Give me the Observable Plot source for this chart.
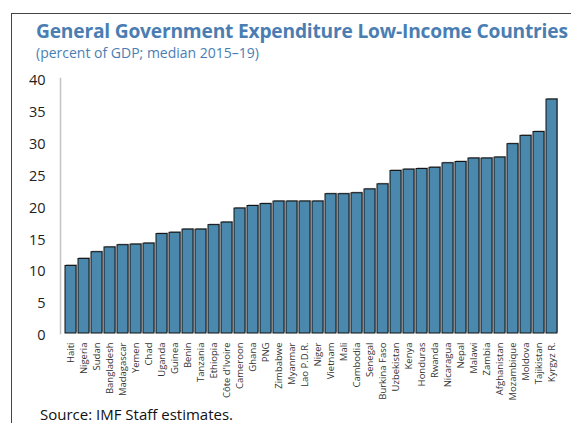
<!DOCTYPE html>
<html>
<head>
<meta charset="utf-8">
<script src="https://cdn.jsdelivr.net/npm/d3@7"></script>
<script src="https://cdn.jsdelivr.net/npm/@observablehq/plot@0.6"></script>
<style>
  html, body { margin: 0; padding: 0; background: #fff; width: 571px; height: 423px; overflow: hidden; }
  body { position: relative; font-family: "Open Sans", "Noto Sans", sans-serif; }
  #box { position: absolute; left: 11px; top: 13px; width: 700px; height: 600px; border-left: 1px solid #444; border-top: 1px solid #444; }
  #title { position: absolute; left: 36px; top: 19px; font-size: 19.2px; line-height: 23px; font-weight: 700; color: #4a7eb3; white-space: nowrap; letter-spacing: -0.2px; }
  #subtitle { position: absolute; left: 36px; top: 45px; font-size: 14px; line-height: 16px; color: #4a7eb3; white-space: nowrap; }
  #chart { position: absolute; left: 0; top: 62px; }
  #source { position: absolute; left: 40px; top: 405px; font-size: 15px; line-height: 18px; color: #111; white-space: nowrap; }
</style>
</head>
<body>
<div id="box"></div>
<div id="title">General Government Expenditure Low-Income Countries</div>
<div id="subtitle">(percent of GDP; median 2015–19)</div>
<div id="chart"></div>
<div id="source">Source: IMF Staff estimates.</div>
<script>
const countries = ["Haiti","Nigeria","Sudan","Bangladesh","Madagascar","Yemen","Chad","Uganda","Guinea","Benin","Tanzania","Ethiopia","Côte d'Ivoire","Cameroon","Ghana","PNG","Zimbabwe","Myanmar","Lao P.D.R.","Niger","Vietnam","Mali","Cambodia","Senegal","Burkina Faso","Uzbekistan","Kenya","Honduras","Rwanda","Nicaragua","Nepal","Malawi","Zambia","Afghanistan","Mozambique","Moldova","Tajikistan","Kyrgyz R."];
const values = [10.6,11.7,12.75,13.5,13.85,13.95,14.1,15.6,15.8,16.3,16.3,17.0,17.4,19.6,20.0,20.3,20.7,20.7,20.7,20.7,21.85,21.85,22.0,22.6,23.4,25.5,25.7,25.8,26.0,26.7,26.9,27.45,27.45,27.6,29.7,31.0,31.6,36.7];
const yTicks = [0,5,10,15,20,25,30,35,40];

const data = countries.map((c, i) => ({country: c, value: values[i]}));

const chart = Plot.plot({
  width: 571,
  height: 338,
  marginLeft: 60,
  marginRight: 8.5,
  marginTop: 16,
  marginBottom: 67,
  style: {fontFamily: "'Open Sans', 'Noto Sans', sans-serif", background: "transparent", overflow: "visible"},
  x: {domain: countries, paddingInner: 0.16, paddingOuter: 0.08, label: null},
  y: {domain: [0, 40], label: null},
  marks: [
    Plot.frame({anchor: "left", stroke: "#c4c4c4", strokeWidth: 1.5}),
    Plot.barY(data, {x: "country", y: "value", fill: "#a0a0a0", dx: 1, dy: -1}),
    Plot.barY(data, {x: "country", y: "value", fill: "#4a89ad", stroke: "#111", strokeWidth: 1}),
    Plot.axisY({ticks: yTicks, tickSize: 0, tickPadding: 15, fontSize: 14.5, dy: 2, fill: "#222", tickFormat: d => String(d)}),
    Plot.axisX({tickSize: 0, tickPadding: 9, tickRotate: -90, fontSize: 9.5, fill: "#333"})
  ]
});
document.getElementById("chart").appendChild(chart);
</script>
</body>
</html>
